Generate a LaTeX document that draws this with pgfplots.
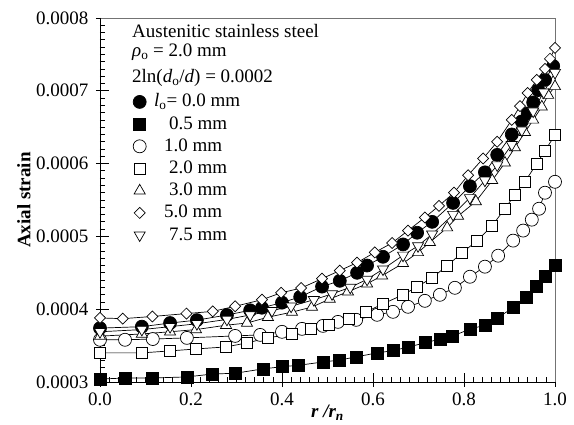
\documentclass[border=0pt]{standalone}
\usepackage{pgfplots}
\pgfplotsset{compat=1.18}
\usepackage{fontspec}
\setmainfont{Liberation Serif}
\begin{document}
\fontsize{19bp}{22bp}\selectfont
\begin{tikzpicture}
\begin{axis}[
  scale only axis, width=455bp, height=364bp,
  at={(0,0)}, anchor=south west,
  xmin=0, xmax=1, ymin=0.0003, ymax=0.0008,
  clip=false,
  axis line style={black!55, line width=0.8bp},
  xtick={0,0.2,0.4,0.6,0.8,1.0},
  xticklabels={0.0,0.2,0.4,0.6,0.8,1.0},
  ytick={0.0003,0.0004,0.0005,0.0006,0.0007,0.0008},
  yticklabels={0.0003,0.0004,0.0005,0.0006,0.0007,0.0008},
  scaled y ticks=false,
  minor x tick num=9, minor y tick num=9,
  xtick pos=bottom, ytick pos=left,
  tick align=inside,
  major tick length=9bp, minor tick length=5bp,
  tick style={black, line width=0.8bp},
  extra x ticks={0,0.2,0.4,0.6,0.8,1.0}, extra x tick labels={},
  extra x tick style={tick align=outside, major tick length=5bp},
  extra y ticks={0.0003,0.0004,0.0005,0.0006,0.0007,0.0008}, extra y tick labels={},
  extra y tick style={tick align=outside, major tick length=4bp},
  yticklabel style={xshift=-5bp},
  xticklabel style={yshift=-4bp},
  ylabel={\bfseries Axial strain},
  ylabel style={at={(rel axis cs:0,0.5)}, anchor=center, rotate=0, yshift=76bp},
  xlabel={\bfseries\itshape r /r\textsubscript{n}},
  xlabel style={at={(rel axis cs:0.5,0)}, anchor=center, yshift=-31bp},
  legend image code/.code={\draw[#1] plot coordinates {(0bp,0bp)};},
  legend cell align=left,
  legend style={draw=none, fill=none, at={(0.0725,0.8005)}, anchor=north west,
    inner sep=0pt, row sep=0pt, column sep=8bp,
    nodes={inner sep=0pt, text height=16bp, text depth=6.2bp}},
]
\draw[black, line width=0.8bp] (rel axis cs:0,1) -- (rel axis cs:0,0) -- (rel axis cs:1,0);

% l0 = 0.0 mm
\addplot[black, line width=0.7bp, mark=*, mark size=6.5bp, mark options={solid, fill=black, draw=black}] coordinates {
(0,0.000374) (0.092,0.000376) (0.154,0.000381) (0.213,0.000385) (0.279,0.000392)
(0.33,0.0003985) (0.356,0.000402) (0.40,0.000409) (0.44,0.000417) (0.488,0.000431)
(0.527,0.000439) (0.565,0.00045) (0.587,0.00046) (0.622,0.000472) (0.666,0.000489)
(0.697,0.000505) (0.73,0.00052) (0.776,0.000546) (0.813,0.000569) (0.846,0.000588)
(0.873,0.000612) (0.905,0.00064) (0.927,0.000658) (0.94,0.000669) (0.952,0.000684)
(0.963,0.000701) (0.978,0.000715) (0.996,0.000734)};
% 0.5 mm
\addplot[black, line width=0.7bp, mark=square*, mark size=6bp, mark options={solid, fill=black, draw=black}] coordinates {
(0,0.000304) (0.055,0.0003055) (0.116,0.0003055) (0.191,0.000307) (0.248,0.000311)
(0.297,0.000312) (0.358,0.000318) (0.40,0.000321) (0.437,0.000323) (0.49,0.0003275)
(0.525,0.00033) (0.563,0.0003345) (0.609,0.00034) (0.644,0.000343) (0.677,0.000348)
(0.716,0.000354) (0.747,0.000359) (0.774,0.000363) (0.815,0.000373) (0.846,0.000378)
(0.873,0.000388) (0.908,0.000402) (0.938,0.000416) (0.960,0.000431) (0.978,0.000445)
(1.0,0.00046)};
% 1.0 mm
\addplot[black, line width=0.7bp, mark=*, mark size=6.5bp, mark options={solid, fill=white, draw=black}] coordinates {
(0,0.000358) (0.055,0.000358) (0.116,0.000359) (0.191,0.0003606) (0.297,0.0003633)
(0.352,0.0003647) (0.40,0.0003689) (0.444,0.000373) (0.49,0.0003771) (0.523,0.0003826)
(0.563,0.0003854) (0.609,0.0003923) (0.644,0.0003964) (0.677,0.0004033) (0.714,0.0004115)
(0.747,0.0004198) (0.78,0.0004294) (0.813,0.0004446) (0.846,0.0004584) (0.875,0.0004735)
(0.908,0.0004942) (0.93,0.000508) (0.949,0.000523) (0.965,0.000538) (0.978,0.00056)
(1.0,0.000575)};
% 2.0 mm
\addplot[black, line width=0.7bp, mark=square*, mark size=5.5bp, mark options={solid, fill=white, draw=black}] coordinates {
(0,0.00034) (0.092,0.00034) (0.154,0.0003427) (0.211,0.0003454) (0.277,0.0003482)
(0.323,0.0003537) (0.369,0.0003606) (0.422,0.0003661) (0.464,0.000373) (0.503,0.0003785)
(0.547,0.0003868) (0.585,0.0003964) (0.622,0.0004074) (0.666,0.0004198) (0.697,0.0004308)
(0.73,0.0004432) (0.763,0.0004597) (0.796,0.0004776) (0.829,0.0004942) (0.862,0.0005148)
(0.89,0.0005382) (0.912,0.0005575) (0.934,0.0005754) (0.96,0.0006) (0.978,0.000618)
(1.0,0.000639)};
% 3.0 mm
\addplot[black, line width=0.7bp, mark=triangle*, mark size=6.4bp, mark options={solid, fill=white, draw=black}] coordinates {
(0,0.000363) (0.092,0.000366) (0.154,0.000369) (0.211,0.000372) (0.277,0.000378)
(0.323,0.000381) (0.369,0.000389) (0.422,0.000396) (0.466,0.000403) (0.505,0.000414)
(0.545,0.000424) (0.587,0.000435) (0.62,0.000446) (0.666,0.000463) (0.699,0.000478)
(0.725,0.000492) (0.763,0.000512) (0.787,0.000528) (0.826,0.000548) (0.862,0.000577)
(0.89,0.000601) (0.912,0.000622) (0.934,0.000643) (0.952,0.00066) (0.971,0.000678)
(0.985,0.000694) (1.0,0.000706)};
% 5.0 mm
\addplot[black, line width=0.7bp, mark=square*, mark size=3.9bp, mark options={solid, fill=white, draw=black, rotate=45}] coordinates {
(0,0.000388) (0.05,0.000387) (0.115,0.00039) (0.19,0.000394) (0.248,0.000397)
(0.297,0.000404) (0.356,0.000413) (0.398,0.0004225) (0.442,0.000429) (0.488,0.000442)
(0.527,0.000453) (0.565,0.000464) (0.604,0.000478) (0.642,0.000491) (0.677,0.000508)
(0.714,0.000526) (0.745,0.000542) (0.778,0.00056) (0.809,0.000584) (0.842,0.000607)
(0.873,0.00063) (0.905,0.00066) (0.923,0.000679) (0.94,0.000697) (0.96,0.000715)
(0.978,0.00073) (0.989,0.000744) (1.0,0.000759)};
% 7.5 mm
\addplot[black, line width=0.7bp, mark=triangle*, mark size=6.4bp, mark options={solid, fill=white, draw=black, rotate=180}] coordinates {
(0,0.000369) (0.092,0.000372) (0.154,0.000376) (0.213,0.00038) (0.279,0.000386)
(0.33,0.000392) (0.378,0.000398) (0.42,0.000404) (0.47,0.000413) (0.51,0.000421)
(0.55,0.00043) (0.587,0.000441) (0.622,0.000455) (0.666,0.000474) (0.699,0.000487)
(0.73,0.000503) (0.776,0.00053) (0.813,0.000553) (0.846,0.000577) (0.873,0.000598)
(0.905,0.000626) (0.927,0.000646) (0.952,0.000672) (0.975,0.000698) (1.0,0.000725)};

\addlegendimage{mark=*, mark size=7bp, mark options={solid, fill=black, draw=black}}
\addlegendentry{{\itshape l}\textsubscript{o}= 0.0 mm}
\addlegendimage{mark=square*, mark size=6.5bp, mark options={solid, fill=black, draw=black}}
\addlegendentry{\hspace{15bp}0.5 mm}
\addlegendimage{mark=*, mark size=6.5bp, mark options={solid, fill=white, draw=black}}
\addlegendentry{\hspace{10bp}1.0 mm}
\addlegendimage{mark=square*, mark size=5.5bp, mark options={solid, fill=white, draw=black}}
\addlegendentry{\hspace{15bp}2.0 mm}
\addlegendimage{mark=triangle*, mark size=6.4bp, mark options={solid, fill=white, draw=black}}
\addlegendentry{\hspace{15bp}3.0 mm}
\addlegendimage{mark=square*, mark size=4.2bp, mark options={solid, fill=white, draw=black, rotate=45}}
\addlegendentry{\hspace{10bp}5.0 mm}
\addlegendimage{mark=triangle*, mark size=6.4bp, mark options={solid, fill=white, draw=black, rotate=180}}
\addlegendentry{\hspace{15bp}7.5 mm}

\node[anchor=west, inner sep=0pt] at (rel axis cs:0.0703,0.963) {Austenitic stainless steel};
\node[anchor=west, inner sep=0pt] at (rel axis cs:0.0703,0.905) {{\itshape ρ}\textsubscript{o} = 2.0 mm};
\node[anchor=west, inner sep=0pt] at (rel axis cs:0.0703,0.835) {2ln({\itshape d}\textsubscript{o}/{\itshape d}) = 0.0002};
\end{axis}
\pgfresetboundingbox
\useasboundingbox (-100bp,-43bp) rectangle (474bp,382bp);
\end{tikzpicture}
\end{document}
